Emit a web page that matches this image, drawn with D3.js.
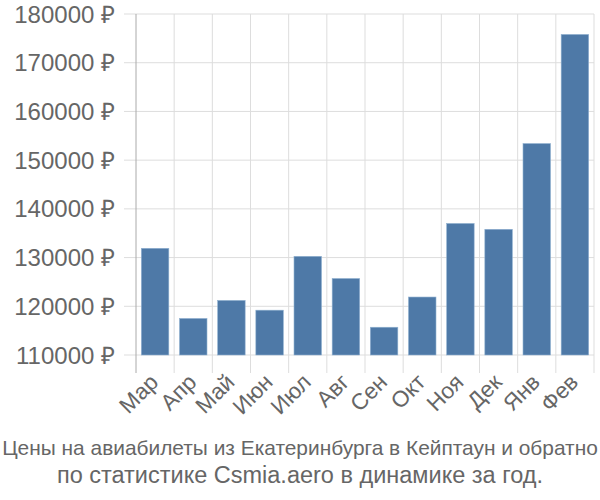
<!DOCTYPE html>
<html><head><meta charset="utf-8">
<script src="https://cdn.jsdelivr.net/npm/d3@7"></script>
<style>body{margin:0;background:#fff;}svg{display:block;font-family:"Liberation Sans",Arial,sans-serif;}</style>
</head><body>
<svg id="c" width="600" height="500"></svg>
<script>
const months = ["Мар","Апр","Май","Июн","Июл","Авг","Сен","Окт","Ноя","Дек","Янв","Фев"];
const prices = [131900,117500,121200,119200,130250,125700,115700,121900,137000,135800,153400,175800];
const yTicks = [110000,120000,130000,140000,150000,160000,170000,180000];
const titleLines = ["Цены на авиабилеты из Екатеринбурга в Кейптаун и обратно","по статистике Csmia.aero в динамике за год."];

const svg = d3.select("#c");
const L=136,R=594,T=14,B=355;
const x = d3.scaleBand().domain(months).range([L,R]).paddingInner(0.28).paddingOuter(0.14);
const xb = d3.scaleBand().domain(months).range([L,R]);
const y = d3.scaleLinear().domain([110000,180000]).range([B,T]);

svg.append("g").selectAll("line").data(yTicks).join("line")
  .attr("x1",L-12).attr("x2",R).attr("y1",d=>y(d)).attr("y2",d=>y(d))
  .attr("stroke","#dddddd").attr("stroke-width",1);
const vx = months.map(m=>xb(m)).concat([R]);
svg.append("g").selectAll("line").data(vx.slice(1)).join("line")
  .attr("x1",d=>d).attr("x2",d=>d).attr("y1",T).attr("y2",373)
  .attr("stroke","#dddddd").attr("stroke-width",1);
svg.append("line").attr("x1",L).attr("x2",L).attr("y1",T).attr("y2",373).attr("stroke","#aaaaaa").attr("stroke-width",1);

svg.append("g").selectAll("rect").data(months).join("rect")
  .attr("x",(d)=>x(d)).attr("width",x.bandwidth())
  .attr("y",(d,i)=>y(prices[i])).attr("height",(d,i)=>B-y(prices[i]))
  .attr("fill","#4e79a7").attr("stroke","#8fb0d0").attr("stroke-width",0.6);

svg.append("g").selectAll("text").data(yTicks).join("text")
  .attr("x",115).attr("y",d=>y(d)).attr("dy","0.36em").attr("text-anchor","end")
  .attr("font-size",24).attr("fill","#666").text(d=>d+" ₽");

svg.append("g").selectAll("text").data(months).join("text")
  .attr("transform",d=>`translate(${xb(d)+xb.bandwidth()/2-1},${378}) rotate(-45)`)
  .attr("text-anchor","end").attr("dy","0.35em")
  .attr("font-size",22.5).attr("fill","#666").text(d=>d);

svg.append("g").selectAll("text").data(titleLines).join("text")
  .attr("x",300).attr("y",(d,i)=>455+i*28).attr("text-anchor","middle")
  .attr("font-size",(d,i)=>i===0?20.9:23.5).attr("fill","#666")
  .text(d=>d);
</script>
</body></html>
